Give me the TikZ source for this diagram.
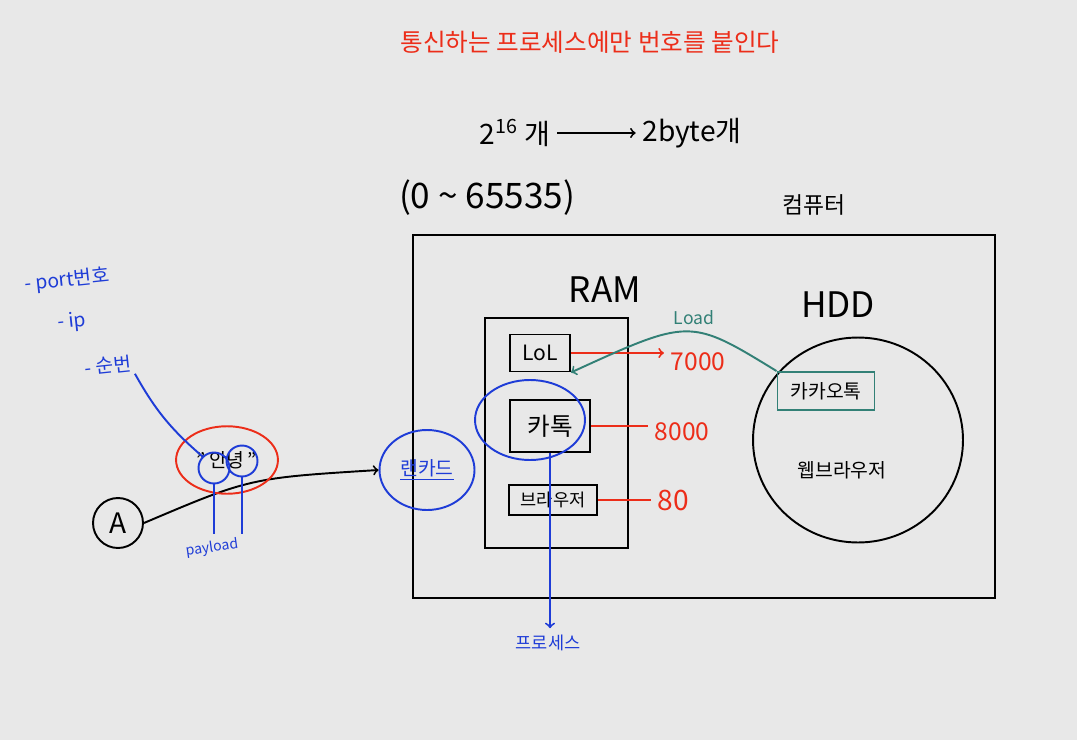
\documentclass[tikz,border=0pt]{standalone}
\usepackage{fontspec}
\setmainfont{Noto Sans CJK KR}
\usetikzlibrary{shapes.geometric}
\definecolor{board}{RGB}{232,232,232}
\definecolor{penred}{RGB}{236,45,25}
\definecolor{penblue}{RGB}{30,60,215}
\definecolor{penteal}{RGB}{50,128,118}
\newcommand{\fs}[1]{\fontsize{#1}{#1}\selectfont}

\begin{document}
\begin{tikzpicture}[x=0.02cm, y=-0.02cm, line width=1.1pt,
	box/.style = {draw, inner sep=2pt},
	num/.style = {text=penred, font=\fs{14}},
	note/.style = {text=penblue, font=\fs{11}, anchor=west, rotate=6, inner sep=1pt}]
	\fill[board] (0,0) rectangle (1077,740);
	\node[text=penred, font=\fs{14}] (title) at (590,42) {통신하는 프로세스에만 번호를 붙인다};
	\node[font=\fs{16}] (pow) at (515,133) {2\textsuperscript{16} 개};
	\node[font=\fs{16}] (bytes) at (692,133) {2byte개};
	\draw[->] (pow.east) -- (bytes.west);
	\node[font=\fs{20}] (range) at (487,198) {(0 \symbol{126} 65535)};
	\node[font=\fs{13}] (comp) at (814,205) {컴퓨터};
	% computer and memory
	\draw (413,235) rectangle (995,598);
	\node[font=\fs{20}] (ram) at (605,290) {RAM};
	\draw (485,318) rectangle (628,548);
	\node[box, minimum width=1.2cm, minimum height=0.74cm, font=\fs{12}] (lol) at (540,353) {LoL};
	\node[box, minimum width=1.6cm, minimum height=1.04cm, font=\fs{14}] (katok) at (550,426) {카톡};
	\node[box, minimum width=1.76cm, minimum height=0.6cm, font=\fs{10}] (browser) at (553,500) {브라우저};
	\node[num] (n7000) at (698,362) {7000};
	\node[num] (n8000) at (682,432) {8000};
	\node[num, font=\fs{16}] (n80) at (673,500) {80};
	\draw[penred, ->] (lol.east) -- (lol.east -| n7000.west);
	\draw[penred] (katok.east) -- (katok.east -| n8000.west);
	\draw[penred] (browser.east) -- (browser.east -| n80.west);
	\node[ellipse, draw=penblue, minimum width=2.2cm, minimum height=1.6cm] (katokring) at (530,420) {};
	\node[text=penblue, font=\fs{10}] (procs) at (548,643) {프로세스};
	\draw[penblue, ->] (katok.south) -- (katok.south |- procs.north);
	% disk
	\node[font=\fs{20}] (hdd) at (838,305) {HDD};
	\node[ellipse, draw, minimum width=4.2cm, minimum height=4.1cm] (hddring) at (858,440) {};
	\node[box, draw=penteal, minimum width=1.94cm, minimum height=0.76cm, font=\fs{11}] (kakao) at (826,391) {카카오톡};
	\node[font=\fs{11}] (web) at (842,470) {웹브라우저};
	\node[text=penteal, font=\fs{10}] (load) at (694,318) {Load};
	\draw[penteal, ->] (kakao.north west) .. controls (690,318) .. (lol.south east);
	% sender side
	\node[ellipse, draw=penblue, text=penblue, minimum width=1.9cm, minimum height=1.6cm, font=\fs{11}] (lan) at (427,470) {\underline{랜카드}};
	\node[circle, draw, minimum size=1cm, font=\fs{16}] (A) at (118,523) {A};
	\draw[->] (A.east) .. controls (250,478) .. (lan.west);
	\node[ellipse, draw=penred, minimum width=1.9cm, minimum height=1.35cm, font=\fs{11}] (hello) at (227,460) {\symbol{34}\,안녕\,\symbol{34}};
	\node[circle, draw=penblue, minimum size=0.62cm] (an) at (214,468) {};
	\node[circle, draw=penblue, minimum size=0.62cm] (nyeong) at (242,461) {};
	\node[note] (port) at (22,285) {- port번호};
	\node[note] (ip) at (55,324) {- ip};
	\node[note] (seq) at (82,368) {- 순번};
	\draw[penblue] (seq.south east) to[bend right=10] (an.north west);
	\node[text=penblue, font=\fs{8}, rotate=8] (payload) at (212,548) {payload};
	\draw[penblue] (an.south) -- (an.south |- payload.north);
	\draw[penblue] (nyeong.south) -- (nyeong.south |- payload.north);
\end{tikzpicture}
\end{document}
